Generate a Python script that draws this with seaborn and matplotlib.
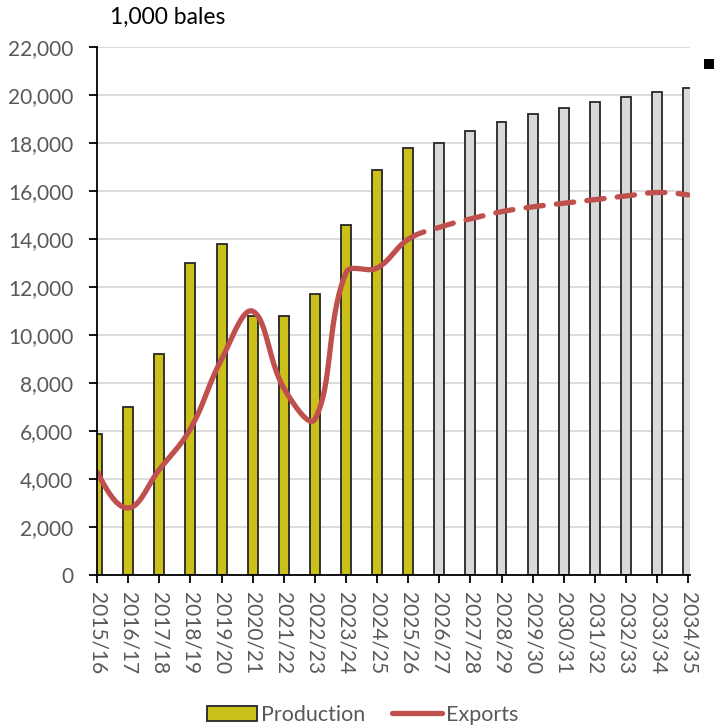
import numpy as np
import pandas as pd
import matplotlib
matplotlib.use("Agg")
import matplotlib.pyplot as plt
import seaborn as sns
from matplotlib.patches import Patch, Rectangle
from matplotlib.lines import Line2D
from matplotlib.ticker import FuncFormatter

seasons = ["2015/16", "2016/17", "2017/18", "2018/19", "2019/20", "2020/21",
           "2021/22", "2022/23", "2023/24", "2024/25", "2025/26", "2026/27",
           "2027/28", "2028/29", "2029/30", "2030/31", "2031/32", "2032/33",
           "2033/34", "2034/35"]
production = [5900, 7000, 9200, 13000, 13800, 10800, 10800, 11700, 14600, 16900,
              17800, 18000, 18500, 18900, 19200, 19450, 19700, 19950, 20150, 20300]
exports = [4300, 2800, 4400, 6100, 9000, 11000, 7800, 6500, 12600, 12800,
           14000, 14500, 14850, 15150, 15350, 15500, 15650, 15800, 15950, 15850]
period = ["actual"] * 11 + ["projected"] * 9
last_actual = 10

yellow = "#CBBF19"
grey = "#D9D9D9"
red = "#C0504D"

sns.set_theme(style="white")
plt.rcParams["font.family"] = ["Lato", "DejaVu Sans"]

df = pd.DataFrame({"season": seasons, "production": production,
                   "exports": exports, "period": period})

fig = plt.figure(figsize=(7.14, 7.28), dpi=100)
ax = fig.add_axes([0.136, 0.21, 0.830, 0.725])

sns.barplot(data=df, x="season", y="production", hue="period",
            palette={"actual": yellow, "projected": grey}, dodge=False,
            saturation=1, width=0.32, edgecolor="#262626", linewidth=1.3,
            legend=False, ax=ax, zorder=2)


# spreadsheet-style smoothed line: bezier segments, tangents weighted by
# segment length measured in screen pixels (approx 31 px per season, 24 px per 1000)
def smooth(xs, ys, n=30, kx=31.0, ky=0.024):
    xs = np.asarray(xs, float)
    ys = np.asarray(ys, float)
    P = np.column_stack([xs * kx, ys * ky])
    m = len(P)
    d = np.linalg.norm(np.diff(P, axis=0), axis=1)
    cin = P.copy()
    cout = P.copy()
    for i in range(1, m - 1):
        T = P[i + 1] - P[i - 1]
        tot = d[i - 1] + d[i]
        cout[i] = P[i] + T * d[i] / tot / 2.6
        cin[i] = P[i] - T * d[i - 1] / tot / 2.6
    cout[0] = P[0] + (cin[1] - P[0]) * 0.5
    cin[-1] = P[-1] + (cout[-2] - P[-1]) * 0.5
    out = []
    for i in range(m - 1):
        t = np.linspace(0, 1, n, endpoint=(i == m - 2))[:, None]
        b = ((1 - t) ** 3 * P[i] + 3 * (1 - t) ** 2 * t * cout[i]
             + 3 * (1 - t) * t ** 2 * cin[i + 1] + t ** 3 * P[i + 1])
        out.append(b)
    out = np.vstack(out)
    return out[:, 0] / kx, out[:, 1] / ky


sx, sy = smooth(np.arange(len(seasons)), exports)
cut = np.searchsorted(sx, last_actual)
line_df = pd.DataFrame({"x": sx, "y": sy})
sns.lineplot(data=line_df.iloc[:cut + 1], x="x", y="y", color=red, linewidth=3.8,
             ax=ax, zorder=3, sort=False, solid_capstyle="round")
sns.lineplot(data=line_df.iloc[cut:], x="x", y="y", color=red, linewidth=3.8,
             ax=ax, zorder=3, sort=False, linestyle=(0, (3.3, 2.5)),
             dash_capstyle="round")

ax.set_xlim(0, len(seasons) - 0.95)
ax.set_ylim(0, 22000)
ax.set_yticks(np.arange(0, 22001, 2000))
ax.yaxis.set_major_formatter(FuncFormatter(lambda v, p: f"{int(v):,}"))
ax.set_xlabel("")
ax.set_ylabel("")
ax.grid(axis="y", color="#D9D9D9", linewidth=1.3, zorder=0)
ax.set_axisbelow(True)

for s in ["top", "right"]:
    ax.spines[s].set_visible(False)
for s in ["left", "bottom"]:
    ax.spines[s].set_color("black")
    ax.spines[s].set_linewidth(1.3)
    ax.spines[s].set_zorder(4)

ax.tick_params(axis="both", direction="out", length=6, width=1.3, color="black",
               labelsize=15, labelcolor="#595959", left=True, bottom=True)
ax.tick_params(axis="y", pad=11)
ax.tick_params(axis="x", pad=6)
plt.setp(ax.get_xticklabels(), rotation=270, ha="center", va="top")

fig.text(0.154, 0.976, "1,000 bales", fontsize=16.5, color="black",
         ha="left", va="center")

handles = [Patch(facecolor=yellow, edgecolor="#262626", linewidth=1.3),
           Line2D([], [], color=red, linewidth=3.8, solid_capstyle="round")]
fig.legend(handles, ["Production", "Exports"], loc="center",
           bbox_to_anchor=(0.508, 0.018), ncol=2, frameon=False, fontsize=15.5,
           labelcolor="#595959", handlelength=2.3, handletextpad=0.2,
           columnspacing=1.25)

fig.add_artist(Rectangle((0.986, 0.905), 0.014, 0.0137, transform=fig.transFigure,
                         facecolor="black", edgecolor="none"))

fig.savefig("out.png", dpi=100)
